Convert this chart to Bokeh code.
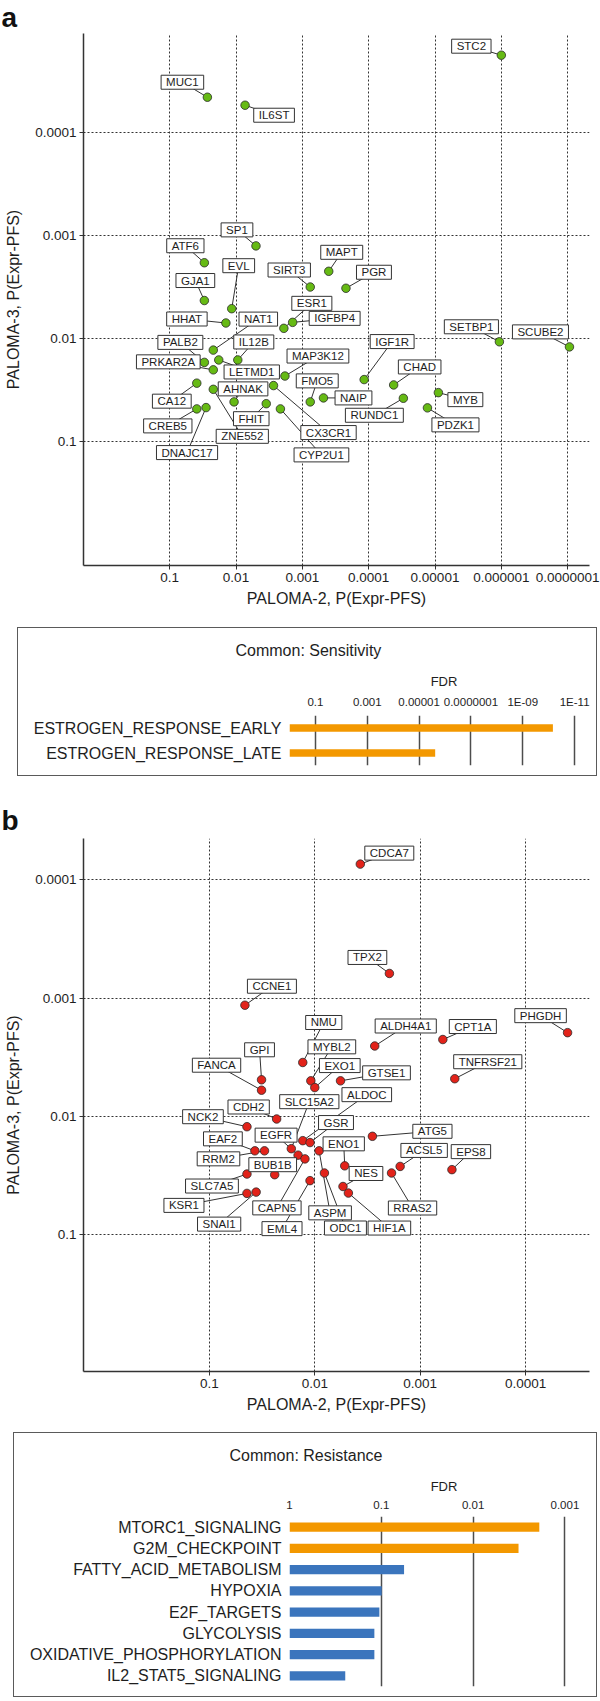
import numpy as np
from bokeh.plotting import figure
from bokeh.models import FixedTicker, Range1d, FactorRange, Label, Spacer, Title
from bokeh.core.properties import value
from bokeh.layouts import column, row
from bokeh.embed import file_html
from bokeh.resources import INLINE

FONT = "Liberation Sans"

# ---------------- data: panel a (sensitivity genes) ----------------
genes_a = ["STC2", "MUC1", "IL6ST", "SP1", "ATF6", "MAPT", "SIRT3", "PGR", "EVL", "GJA1",
           "HHAT", "NAT1", "ESR1", "IGFBP4", "PALB2", "IL12B", "PRKAR2A", "LETMD1", "MAP3K12", "CA12",
           "AHNAK", "ZNE552", "FHIT", "CX3CR1", "CYP2U1", "CREB5", "DNAJC17", "FMO5", "NAIP", "IGF1R",
           "CHAD", "RUNDC1", "SETBP1", "SCUBE2", "MYB", "PDZK1"]
p2_a = [1.0e-6, 2.7e-2, 7.3e-3, 5.0e-3, 3.0e-2, 4.0e-4, 7.6e-4, 2.2e-4, 1.16e-2, 3.0e-2,
        1.42e-2, 2.2e-2, 1.9e-3, 1.4e-3, 3.0e-2, 9.4e-3, 2.2e-2, 1.82e-2, 1.83e-3, 3.9e-2,
        1.07e-2, 2.2e-2, 3.5e-3, 2.72e-3, 2.14e-3, 3.9e-2, 2.83e-2, 7.6e-4, 4.8e-4, 1.17e-4,
        4.2e-5, 3.0e-5, 1.07e-6, 9.4e-8, 8.9e-6, 1.3e-5]
p3_a = [1.8e-5, 4.6e-5, 5.5e-5, 1.27e-3, 1.85e-3, 2.24e-3, 3.18e-3, 3.27e-3, 5.16e-3, 4.3e-3,
        7.1e-3, 1.30e-2, 8.0e-3, 7.0e-3, 1.71e-2, 1.62e-2, 2.02e-2, 1.62e-2, 2.32e-2, 2.72e-2,
        4.13e-2, 3.12e-2, 4.3e-2, 2.87e-2, 4.83e-2, 4.83e-2, 4.69e-2, 4.13e-2, 3.78e-2, 2.51e-2,
        2.83e-2, 3.81e-2, 1.08e-2, 1.21e-2, 3.36e-2, 4.72e-2]
x_ticks_a = [1, 2, 3, 4, 5, 6, 7]
x_labels_a = ["0.1", "0.01", "0.001", "0.0001", "0.00001", "0.000001", "0.0000001"]
y_ticks_a = [1, 2, 3, 4]
y_labels_a = ["0.1", "0.01", "0.001", "0.0001"]

# ---------------- data: panel b (resistance genes) ----------------
genes_b = ["CDCA7", "TPX2", "CCNE1", "PHGDH", "CPT1A", "ALDH4A1", "NMU", "MYBL2", "EXO1", "GTSE1",
           "TNFRSF21", "GPI", "FANCA", "CDH2", "SLC15A2", "ALDOC", "GSR", "EGFR", "NCK2", "EAF2",
           "RRM2", "BUB1B", "SLC7A5", "KSR1", "SNAI1", "CAPN5", "EML4", "ASPM", "ODC1", "HIF1A",
           "ENO1", "NES", "ATG5", "ACSL5", "EPS8", "RRAS2"]
p2_b = [3.7e-3, 1.96e-3, 4.6e-2, 4.0e-5, 6.1e-4, 2.7e-3, 1.30e-2, 1.09e-2, 1.0e-2, 5.7e-3,
        4.7e-4, 3.2e-2, 3.2e-2, 2.3e-2, 1.67e-2, 1.30e-2, 1.11e-2, 1.44e-2, 4.4e-2, 3.7e-2,
        3.0e-2, 2.4e-2, 4.4e-2, 4.4e-2, 3.6e-2, 1.24e-2, 1.11e-2, 9.1e-3, 8.1e-3, 4.8e-3,
        5.2e-3, 5.4e-3, 2.84e-3, 1.55e-3, 5.0e-4, 1.87e-3]
p3_b = [7.4e-5, 6.2e-4, 1.15e-3, 1.96e-3, 2.24e-3, 2.54e-3, 3.5e-3, 5.0e-3, 5.7e-3, 5.0e-3,
        4.8e-3, 4.9e-3, 6.0e-3, 1.05e-2, 1.87e-2, 1.60e-2, 1.66e-2, 2.12e-2, 1.22e-2, 1.95e-2,
        1.95e-2, 3.1e-2, 3.06e-2, 4.46e-2, 4.35e-2, 2.28e-2, 3.48e-2, 1.95e-2, 3.0e-2, 4.43e-2,
        2.61e-2, 3.9e-2, 1.47e-2, 2.64e-2, 2.81e-2, 3.0e-2]
x_ticks_b = [1, 2, 3, 4]
x_labels_b = ["0.1", "0.01", "0.001", "0.0001"]
y_ticks_b = [1, 2, 3, 4]
y_labels_b = ["0.1", "0.01", "0.001", "0.0001"]

# ---------------- data: enrichment bars ----------------
sens_sets = ["ESTROGEN_RESPONSE_EARLY", "ESTROGEN_RESPONSE_LATE"]
sens_fdr = [6.9e-11, 2.4e-6]
sens_tick_vals = [1, 3, 5, 7, 9, 11]
sens_tick_labels = ["0.1", "0.001", "0.00001", "0.0000001", "1E-09", "1E-11"]

res_sets = ["MTORC1_SIGNALING", "G2M_CHECKPOINT", "FATTY_ACID_METABOLISM", "HYPOXIA",
            "E2F_TARGETS", "GLYCOLYSIS", "OXIDATIVE_PHOSPHORYLATION", "IL2_STAT5_SIGNALING"]
res_fdr = [1.9e-3, 3.2e-3, 5.65e-2, 9.9e-2, 1.05e-1, 1.19e-1, 1.19e-1, 2.47e-1]
res_significant = [True, True, False, False, False, False, False, False]
res_tick_vals = [0, 1, 2, 3]
res_tick_labels = ["1", "0.1", "0.01", "0.001"]

# ---------------- layout: label-box offsets (screen px, right / up) ----------------
offs_a = [(-30, 9), (-25, 15), (29, -10), (-19, 16), (-19, 17), (13, 19), (-21, 17), (28, 16),
          (7, 43), (-9, 20), (-39, 4), (45, 31), (28, 25), (42, 4), (-24, 20), (16, 18),
          (-45, 8), (33, -12), (33, 20), (-25, -18), (9, 13), (29, -47), (-15, -15), (55, -47),
          (41, -46), (-29, -17), (-19, -45), (7, 21), (30, 0), (28, 38), (26, 18), (-29, -17),
          (-28, 15), (-29, 15), (27, -7), (28, -17)]
offs_b = [(29, 11), (-22, 16), (27, 19), (-27, 17), (30, 13), (31, 20), (21, 40), (21, 34),
          (25, 22), (46, 8), (33, 17), (-2, 30), (-45, 25), (-28, 12), (18, 47), (64, 46),
          (26, 20), (-22, 20), (-44, 10), (-32, 12), (-46, -8), (-2, 10), (-35, -12), (-63, -12),
          (-37, -32), (-28, -49), (-28, -48), (11, -62), (21, -55), (41, -35), (-1, 22), (23, 13),
          (60, 5), (24, 16), (19, 18), (21, -35)]

GREEN = "#66BA14"
RED = "#E2231A"
ORANGE = "#F39800"
BLUE = "#3B75BD"
TXT = "#1e1e1e"
W = 600


def letter_strip(letter, height, baseline):
    # small strip carrying the panel letter; its frame is the whole canvas (1 unit = 1 px)
    w = W - 1
    p = figure(width=w, height=height, x_range=Range1d(0, w), y_range=Range1d(0, height),
               output_backend="svg", toolbar_location=None, min_border=0,
               min_border_left=0, min_border_right=0, min_border_top=0, min_border_bottom=0)
    p.axis.visible = False
    p.grid.visible = False
    p.outline_line_color = None
    p.text(x=[0], y=[height - baseline], text=[letter], text_font=value(FONT),
           text_font_size="28px", text_font_style="bold", text_color="#111111",
           text_align="left", text_baseline="alphabetic")
    # wrapped in a row so the column does not align its frame with the scatter frame
    return row(Spacer(width=1, height=height), p)


def scatter_panel(genes, p2, p3, offs, xr, yr, xt, xl, yt, yl, fill, height, bottom):
    left, right, top = 83, 11, 0
    p = figure(width=W, height=height, x_range=Range1d(*xr), y_range=Range1d(*yr),
               output_backend="svg", toolbar_location=None,
               min_border_left=left, min_border_right=right,
               min_border_top=top, min_border_bottom=bottom)
    fw = W - left - right
    fh = height - top - bottom
    kx = fw / (xr[1] - xr[0])
    ky = fh / (yr[1] - yr[0])
    x = -np.log10(np.array(p2))
    y = -np.log10(np.array(p3))
    dx = np.array([o[0] for o in offs], dtype=float)
    dy = np.array([o[1] for o in offs], dtype=float)
    lx = x + dx / kx
    ly = y + dy / ky
    p.outline_line_color = None
    p.segment(x0=x, y0=y, x1=lx, y1=ly, line_color="#333333", line_width=1)
    p.scatter(x=x, y=y, size=8.5, fill_color=fill, line_color="#2a2a2a", line_width=0.8)
    for g, a, b in zip(genes, lx, ly):
        p.add_layout(Label(x=a, y=b, text=g, text_align="center", text_baseline="middle",
                           text_font=FONT, text_font_size="11.5px", text_color=TXT,
                           background_fill_color="white", border_line_color="#333333",
                           border_line_width=1, padding=(5, 1)))
    p.xaxis.ticker = FixedTicker(ticks=xt)
    p.xaxis.major_label_overrides = {t: s for t, s in zip(xt, xl)}
    p.yaxis.ticker = FixedTicker(ticks=yt)
    p.yaxis.major_label_overrides = {t: s for t, s in zip(yt, yl)}
    p.xaxis.axis_label = "PALOMA-2, P(Expr-PFS)"
    p.yaxis.axis_label = "PALOMA-3, P(Expr-PFS)"
    for ax in (p.xaxis, p.yaxis):
        ax.axis_line_color = "#333333"
        ax.axis_line_width = 1.5
        ax.major_tick_line_color = "#333333"
        ax.major_tick_out = 4
        ax.major_tick_in = 0
        ax.minor_tick_line_color = None
        ax.major_label_text_font = FONT
        ax.major_label_text_font_size = "13.5px"
        ax.major_label_text_color = TXT
        ax.major_label_standoff = 3
        ax.axis_label_text_font = FONT
        ax.axis_label_text_font_size = "16px"
        ax.axis_label_text_font_style = "normal"
        ax.axis_label_text_color = TXT
    p.xaxis.axis_label_standoff = 5
    p.yaxis.axis_label_standoff = 10
    for gr in (p.xgrid, p.ygrid):
        gr.grid_line_color = "#333333"
        gr.grid_line_dash = "2 2"
        gr.grid_line_width = 1
    return p


def bar_panel(title, title_offset, cats, fdr, colors, tick_vals, tick_labels, grid_vals,
              width, height, left, top, bottom, x_end, bar_h):
    p = figure(width=width, height=height, y_range=FactorRange(*cats[::-1]),
               x_range=Range1d(0, x_end), x_axis_location="above",
               output_backend="svg", toolbar_location=None,
               min_border_left=left, min_border_right=0,
               min_border_top=top, min_border_bottom=bottom,
               styles={"border": "1px solid #5a5a5a"})
    p.title = Title(text=title, align="left", offset=title_offset,
                    text_font=FONT, text_font_size="16px", text_font_style="normal",
                    text_color=TXT, standoff=23)
    p.outline_line_color = None
    vals = -np.log10(np.array(fdr))
    p.hbar(y=cats, left=0, right=vals, height=bar_h, fill_color=colors, line_color=None)
    p.xaxis.ticker = FixedTicker(ticks=tick_vals)
    p.xaxis.major_label_overrides = {t: s for t, s in zip(tick_vals, tick_labels)}
    p.xaxis.axis_label = "FDR"
    p.xaxis.axis_line_color = None
    p.xaxis.major_tick_line_color = None
    p.xaxis.minor_tick_line_color = None
    p.xaxis.major_tick_out = 0
    p.xaxis.major_label_standoff = 8
    p.xaxis.major_label_text_font = FONT
    p.xaxis.major_label_text_font_size = "11.5px"
    p.xaxis.major_label_text_color = TXT
    p.xaxis.axis_label_standoff = 4
    p.xaxis.axis_label_text_font = FONT
    p.xaxis.axis_label_text_font_size = "13px"
    p.xaxis.axis_label_text_font_style = "normal"
    p.xaxis.axis_label_text_color = TXT
    p.yaxis.axis_line_color = None
    p.yaxis.major_tick_line_color = None
    p.yaxis.minor_tick_line_color = None
    p.yaxis.major_tick_out = 0
    p.yaxis.major_label_standoff = 8
    p.yaxis.major_label_text_font = FONT
    p.yaxis.major_label_text_font_size = "16px"
    p.yaxis.major_label_text_color = TXT
    p.xgrid.ticker = FixedTicker(ticks=grid_vals)
    p.xgrid.grid_line_color = "#4d4d4d"
    p.xgrid.grid_line_width = 1.5
    p.ygrid.grid_line_color = None
    return p


stripA = letter_strip("a", 33, 16.7)
figA = scatter_panel(genes_a, p2_a, p3_a, offs_a, (-0.299, 7.329), (-0.202, 4.955),
                     x_ticks_a, x_labels_a, y_ticks_a, y_labels_a, GREEN, 594, 62)
barA = bar_panel("Common: Sensitivity", -54, sens_sets, sens_fdr, [ORANGE] * len(sens_sets),
                 sens_tick_vals, sens_tick_labels, [0] + sens_tick_vals,
                 580, 149, 271, 81, 12, 11.92, 0.3)
stripB = letter_strip("b", 60, 42)
figB = scatter_panel(genes_b, p2_b, p3_b, offs_b, (-0.194, 4.606), (-0.153, 4.347),
                     x_ticks_b, x_labels_b, y_ticks_b, y_labels_b, RED, 594, 61)
barB = bar_panel("Common: Resistance", -60, res_sets, res_fdr,
                 [ORANGE if s else BLUE for s in res_significant],
                 res_tick_vals, res_tick_labels, res_tick_vals,
                 584, 265, 275, 81, 12, 3.366, 0.43)

layout = column(stripA, figA,
                row(Spacer(width=17, height=151), barA),
                stripB, figB,
                row(Spacer(width=13, height=267), barB))

open("out.html", "w").write(file_html(layout, INLINE))
